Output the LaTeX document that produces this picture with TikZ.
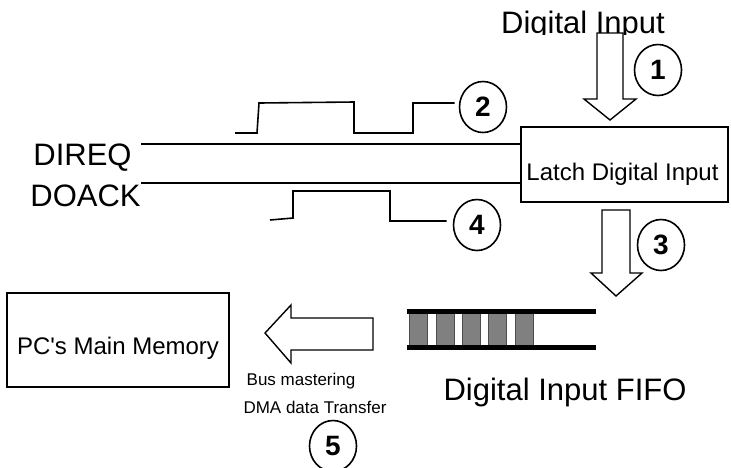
\documentclass[tikz,border=0pt]{standalone}
\usepackage{fontspec}
\setmainfont{Liberation Sans}
\usetikzlibrary{shapes.geometric}

\tikzset{
  box/.style={draw,line width=0.8pt,inner sep=0pt},
  num/.style={draw,ellipse,line width=0.8pt,inner sep=0pt,
    minimum width=23.5pt,minimum height=25.5pt,
    font=\fontsize{14}{16}\selectfont\bfseries},
  sig/.style={line width=0.8pt},
  blk/.style={draw,line width=0.7pt,fill=white,line join=miter},
  cell/.style={draw=black!70,fill=gray,line width=0.5pt},
  big/.style={inner sep=0pt,font=\fontsize{15.5}{18}\selectfont},
  mid/.style={inner sep=0pt,font=\fontsize{12}{14}\selectfont},
  small/.style={inner sep=0pt,font=\fontsize{8.5}{10}\selectfont}
}

\begin{document}
\begin{tikzpicture}[x=0.5pt,y=-0.5pt]
  \useasboundingbox (0,0) rectangle (731,467);

  % title, cut at the bottom as in the original
  \begin{scope}
    \clip (480,0) rectangle (700,34);
    \node[big,anchor=base] (din) at (583,33) {Digital Input};
  \end{scope}

  \node[box,minimum width=103.5pt,minimum height=37.5pt] (latch) at (624.5,164.5) {};
  \node[mid,anchor=base west] (latchtxt) at (526,180) {Latch Digital Input};

  \node[box,minimum width=111pt,minimum height=47pt] (pc) at (118,340) {};
  \node[mid,anchor=base] (pctxt) at (118,354) {PC{\textquotesingle}s Main Memory};

  % signal lines
  \node[big,anchor=base west] (req) at (33,165) {DIREQ};
  \node[big,anchor=base west] (ack) at (30,206) {DOACK};
  \coordinate (reqs) at (141,144);
  \coordinate (acks) at (141,183);
  \draw[sig] (reqs) -- (reqs -| latch.west);
  \draw[sig] (acks) -- (acks -| latch.west);

  \node[num] (c1) at (658,70) {1};
  \node[num] (c2) at (483,107) {2};
  \node[num] (c3) at (661,245) {3};
  \node[num] (c4) at (477,225) {4};
  \node[num] (c5) at (333,446) {5};

  % pulses
  \coordinate (hi2) at (413,103);
  \coordinate (lo4) at (390,221);
  \draw[sig,shorten >=2pt] (235,133) -- (257,133) -- (259,103) -- (354,102)
        -- (354,133) -- (413,133) -- (hi2) -- (hi2 -| c2.west);
  \draw[sig,shorten >=3pt] (270,220) -- (293,218) -- (293,191) -- (390,191)
        -- (lo4) -- (lo4 -| c4.west);

  % block arrows
  \draw[blk] (597,33) -- (623,33) -- (623,99) -- (636,99) -- (610,120)
        -- (584,99) -- (597,99) -- cycle;
  \draw[blk] (602,210) -- (630,210) -- (630,273) -- (642,273) -- (616,296)
        -- (591,273) -- (602,273) -- cycle;
  \draw[blk] (265,333) -- (291,305) -- (291,318) -- (373,318) -- (373,350)
        -- (291,350) -- (291,363) -- cycle;

  % fifo
  \foreach \x in {409,436,462,488,515}
    \draw[cell] (\x,313) rectangle +(18,34);
  \draw[line width=2.5pt] (407,311) -- (596,311);
  \draw[line width=2.5pt] (407,347) -- (596,347);
  \node[big,anchor=base] (fifo) at (565,400) {Digital Input FIFO};

  \node[small,anchor=base] (bus) at (301,385) {Bus mastering};
  \node[small,anchor=base] (dma) at (315,413) {DMA data Transfer};
\end{tikzpicture}
\end{document}
